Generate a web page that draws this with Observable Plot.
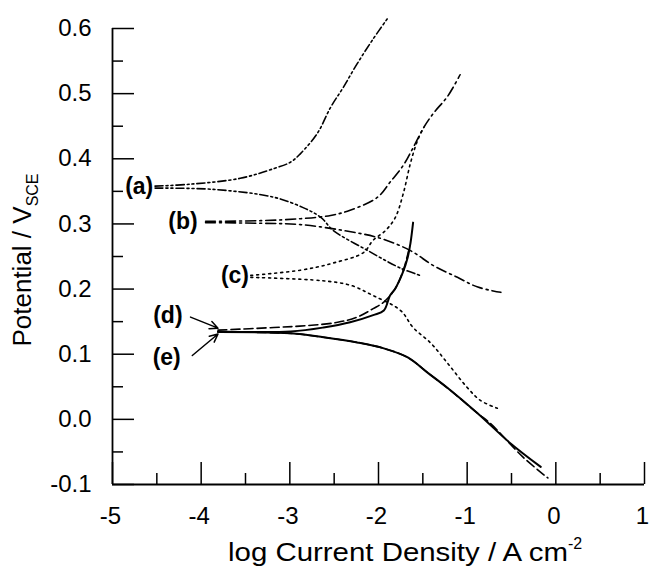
<!DOCTYPE html>
<html><head><meta charset="utf-8">
<script src="https://cdn.jsdelivr.net/npm/d3@7"></script>
<script src="https://cdn.jsdelivr.net/npm/@observablehq/plot@0.6"></script>
<style>body{margin:0;background:#fff;} svg{overflow:visible}</style>
</head><body><div id="chart"></div>
<script>
// Curve (a)
const aAnodicX = [-4.52,-4.12,-3.56,-3.18,-2.99,-2.88,-2.69,-2.54,-2.40,-2.24,-2.07,-1.89];
const aAnodicY = [0.358,0.361,0.370,0.385,0.395,0.408,0.439,0.479,0.509,0.546,0.582,0.617];
const aCathodicX = [-4.52,-3.86,-3.18,-2.85,-2.65,-2.51,-2.12,-1.75,-1.53];
const aCathodicY = [0.355,0.353,0.341,0.325,0.310,0.290,0.259,0.232,0.221];
// Curve (b)
const bAnodicX = [-3.95,-3.33,-2.88,-2.54,-2.32,-2.01,-1.87,-1.72,-1.61,-1.49,-1.38,-1.22,-1.08];
const bAnodicY = [0.304,0.305,0.308,0.313,0.321,0.341,0.364,0.390,0.417,0.448,0.470,0.496,0.529];
const bCathodicX = [-3.95,-3.33,-2.88,-2.40,-1.98,-1.64,-1.38,-1.11,-0.88,-0.62];
const bCathodicY = [0.302,0.301,0.299,0.290,0.278,0.259,0.236,0.218,0.203,0.195];
// Curve (c)
const cAnodicX = [-3.44,-2.88,-2.51,-2.17,-2.06,-1.92,-1.81,-1.72,-1.64,-1.56,-1.49];
const cAnodicY = [0.221,0.229,0.240,0.256,0.275,0.290,0.310,0.347,0.393,0.428,0.448];
const cCathodicX = [-3.44,-2.65,-2.32,-2.06,-1.75,-1.61,-1.41,-1.22,-1.00,-0.85,-0.66];
const cCathodicY = [0.218,0.213,0.206,0.190,0.167,0.141,0.117,0.086,0.049,0.029,0.017];
// Curve (d)
const dAnodicX = [-3.81,-3.18,-2.80,-2.46,-2.24,-2.06,-1.94,-1.81,-1.72,-1.66];
const dAnodicY = [0.137,0.141,0.144,0.149,0.157,0.170,0.180,0.201,0.229,0.259];
const dCathodicX = [-3.81,-2.99,-2.62,-2.24,-1.94,-1.67,-1.44,-1.22,-0.88,-0.74,-0.37,-0.09];
const dCathodicY = [0.134,0.132,0.126,0.118,0.109,0.095,0.071,0.048,0.009,-0.006,-0.058,-0.090];
// Curve (e)
const eAnodicX = [-3.81,-2.99,-2.62,-2.32,-2.06,-1.94,-1.87,-1.81,-1.73,-1.67,-1.64,-1.61];
const eAnodicY = [0.135,0.135,0.141,0.149,0.160,0.167,0.190,0.201,0.224,0.249,0.270,0.302];
const eCathodicX = [-3.81,-2.99,-2.62,-2.24,-1.94,-1.67,-1.44,-1.22,-0.88,-0.51,-0.17];
const eCathodicY = [0.134,0.132,0.126,0.118,0.109,0.095,0.071,0.048,0.009,-0.037,-0.073];

// Curve labels
const labelText = ["(a)","(b)","(c)","(d)","(e)"];
const labelX = [-4.54,-4.04,-3.46,-4.21,-4.23];
const labelY = [0.358,0.303,0.220,0.160,0.095];
// Arrows for (d) and (e)
const arrowX1 = [-4.12,-4.10];
const arrowY1 = [0.157,0.098];
const arrowX2 = [-3.81,-3.81];
const arrowY2 = [0.140,0.131];

// Axis ticks
const xMajor = [-5,-4,-3,-2,-1,0,1];
const xMinor = [-4.5,-3.5,-2.5,-1.5,-0.5,0.5];
const yMajor = [-0.1,0,0.1,0.2,0.3,0.4,0.5,0.6];
const yMinor = [-0.05,0.05,0.15,0.25,0.35,0.45,0.55];

function rows(xs, ys, branch) { return xs.map((x, i) => ({x, y: ys[i], branch})); }
function curve(ax, ay, cx, cy) { return [...rows(ax, ay, "anodic"), ...rows(cx, cy, "cathodic")]; }

const curveA = curve(aAnodicX, aAnodicY, aCathodicX, aCathodicY);
const curveB = curve(bAnodicX, bAnodicY, bCathodicX, bCathodicY);
const curveC = curve(cAnodicX, cAnodicY, cCathodicX, cCathodicY);
const curveD = curve(dAnodicX, dAnodicY, dCathodicX, dCathodicY);
const curveE = curve(eAnodicX, eAnodicY, eCathodicX, eCathodicY);
const labels = labelText.map((t, i) => ({t, x: labelX[i], y: labelY[i]}));
const arrows = arrowX1.map((x1, i) => ({x1, y1: arrowY1[i], x2: arrowX2[i], y2: arrowY2[i]}));

const FONT = "Liberation Sans, Arial, Helvetica, sans-serif";
const lineOpts = {x: "x", y: "y", z: "branch", stroke: "black", strokeWidth: 1.6, curve: "catmull-rom"};

const plot = Plot.plot({
  width: 649, height: 568,
  marginLeft: 112, marginRight: 5, marginTop: 28, marginBottom: 84,
  style: {fontFamily: FONT, background: "white", overflow: "visible"},
  x: {domain: [-5, 1]},
  y: {domain: [-0.1, 0.6]},
  marks: [
    Plot.axisX(xMajor, {tickSize: -22, tickFormat: () => "", strokeWidth: 1.5, label: null}),
    Plot.axisX(xMinor, {tickSize: -11, tickFormat: () => "", strokeWidth: 1.5, label: null}),
    Plot.axisX(xMajor, {tickSize: 0, tickPadding: 22, dx: -2, tickFormat: d => String(d), fontSize: 24, label: null}),
    Plot.axisY(yMajor, {tickSize: -22, tickFormat: () => "", strokeWidth: 1.5, label: null}),
    Plot.axisY(yMinor, {tickSize: -11, tickFormat: () => "", strokeWidth: 1.5, label: null}),
    Plot.axisY(yMajor, {tickSize: 0, tickPadding: 21, tickFormat: d => d.toFixed(1), fontSize: 24, label: null}),
    Plot.ruleX([-5], {strokeWidth: 1.8}),
    Plot.ruleY([-0.1], {strokeWidth: 1.8}),
    Plot.line(curveA, {...lineOpts, strokeDasharray: "8,3,2,3,2,3"}),
    Plot.line(curveB, {...lineOpts, strokeDasharray: "10,4,2,4"}),
    Plot.line(curveC, {...lineOpts, strokeDasharray: "2,4"}),
    Plot.line(curveD, {...lineOpts, strokeDasharray: "9,4"}),
    Plot.line(curveE, {...lineOpts, strokeWidth: 2}),
    Plot.arrow(arrows, {x1: "x1", y1: "y1", x2: "x2", y2: "y2", stroke: "black", strokeWidth: 1.5, headLength: 9, headAngle: 50}),
    Plot.text(labels, {x: "x", y: "y", text: "t", textAnchor: "end", fontWeight: "bold", fontSize: 23, fill: "black"})
  ]
});

const svg = d3.select(plot);
// X axis title with superscript
const xt = svg.append("text")
  .attr("x", 228).attr("y", 561)
  .attr("text-anchor", "start")
  .attr("font-family", FONT).attr("font-size", 25).attr("fill", "black");
xt.append("tspan").attr("textLength", 340).attr("lengthAdjust", "spacingAndGlyphs").text("log Current Density / A cm");
xt.append("tspan").attr("font-size", 16).attr("dy", -12).text("-2");
// Y axis title with subscript
const yt = svg.append("text")
  .attr("transform", "translate(31,260) rotate(-90)")
  .attr("text-anchor", "middle")
  .attr("font-family", FONT).attr("font-size", 26).attr("fill", "black");
yt.append("tspan").text("Potential / V");
yt.append("tspan").attr("font-size", 16).attr("dy", 7).text("SCE");

document.getElementById("chart").appendChild(plot);
</script>
</body></html>
